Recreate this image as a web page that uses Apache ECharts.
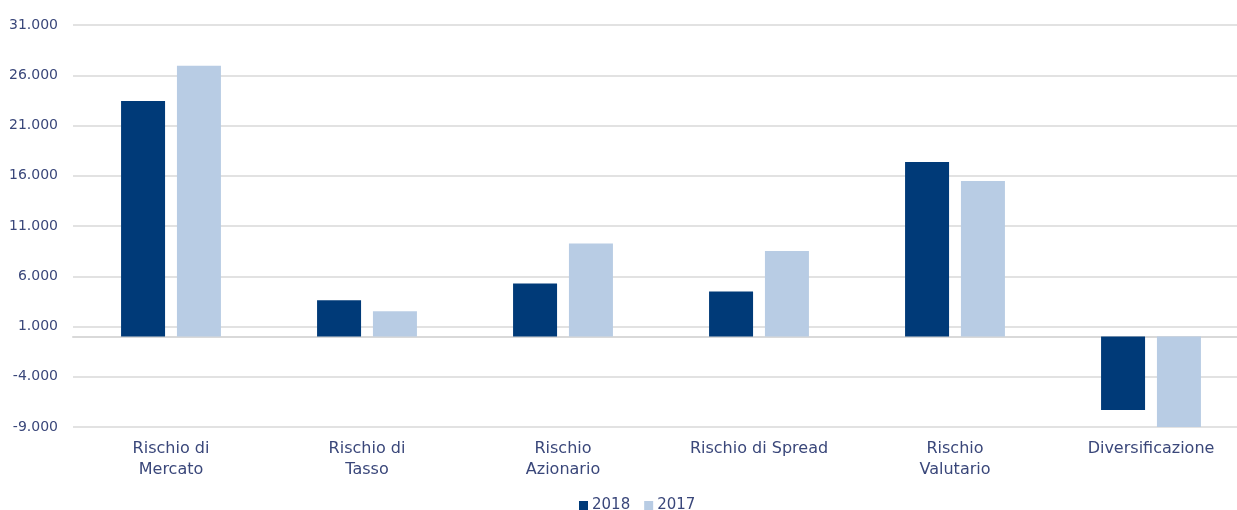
<!DOCTYPE html>
<html>
<head>
<meta charset="utf-8">
<script src="https://cdn.jsdelivr.net/npm/echarts@6/dist/echarts.min.js"></script>
<style>
  html, body { margin: 0; padding: 0; background: #ffffff; overflow: hidden; width: 1237px; height: 510px; }
  /* canvas is a bit wider than the page: the plot area runs past the right edge */
  #chart { width: 1249px; height: 510px; }
</style>
</head>
<body>
<div id="chart"></div>
<script>
// Risk categories (x axis)
const categories = [
  'Rischio di\nMercato',
  'Rischio di\nTasso',
  'Rischio\nAzionario',
  'Rischio di Spread',
  'Rischio\nValutario',
  'Diversificazione'
];

// Values per year
const values2018 = [23450, 3600, 5270, 4480, 17380, -7300];
const values2017 = [26950, 2520, 9250, 8500, 15490, -9000];

// Y axis range and step
const yMin = -9000;
const yMax = 31000;
const yStep = 5000;

const textColor = '#3a477a';
const gridColor = '#d9d9d9';
const fontFamily = '"DejaVu Sans", "Noto Sans", sans-serif';

// Italian thousands separator
function fmt(v) {
  const s = Math.abs(v).toString().replace(/\B(?=(\d{3})+(?!\d))/g, '.');
  return (v < 0 ? '-' : '') + s;
}

const chart = echarts.init(document.getElementById('chart'), null, { renderer: 'canvas' });
chart.setOption({
  animation: false,
  textStyle: { fontFamily: fontFamily },
  grid: { left: 73, right: 0, top: 25, bottom: 83, containLabel: false },
  legend: {
    bottom: -8,
    left: 574,
    itemWidth: 9,
    itemHeight: 9,
    itemGap: 14,
    icon: 'rect',
    textStyle: { color: textColor, fontSize: 15, fontFamily: fontFamily, padding: [0, 0, 0, -1] },
    data: ['2018', '2017']
  },
  xAxis: {
    type: 'category',
    data: categories,
    axisLine: { onZero: true, lineStyle: { color: gridColor, width: 2 } },
    axisTick: { show: false },
    axisLabel: {
      color: textColor,
      fontSize: 16,
      fontFamily: fontFamily,
      lineHeight: 21,
      interval: 0,
      margin: 11
    },
    splitLine: { show: false }
  },
  yAxis: {
    type: 'value',
    min: yMin,
    max: yMax,
    interval: yStep,
    axisLine: { show: false },
    axisTick: { show: false },
    axisLabel: { color: textColor, fontSize: 14, fontFamily: fontFamily, margin: 15, formatter: fmt },
    splitLine: { lineStyle: { color: gridColor, width: 1.5 } }
  },
  series: [
    {
      name: '2018',
      type: 'bar',
      data: values2018,
      barWidth: 44,
      barGap: '27%',
      itemStyle: { color: '#003a78' }
    },
    {
      name: '2017',
      type: 'bar',
      data: values2017,
      barWidth: 44,
      barGap: '27%',
      itemStyle: { color: '#b8cce4' }
    }
  ]
});
</script>
</body>
</html>
